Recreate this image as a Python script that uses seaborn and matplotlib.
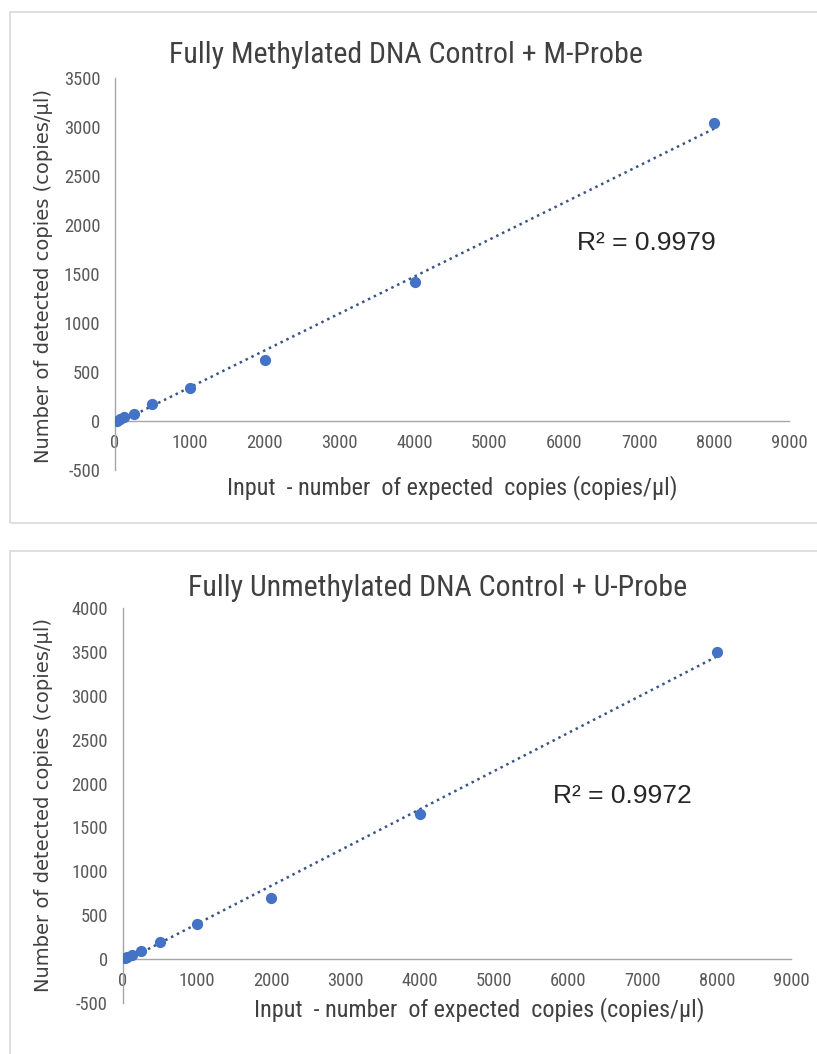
import matplotlib
matplotlib.use("Agg")
import matplotlib.pyplot as plt
from matplotlib.patches import Rectangle
import seaborn as sns
import numpy as np

# dane
expected_copies = [31.25, 62.5, 125, 250, 500, 1000, 2000, 4000, 8000]
m_probe_detected = [5, 20, 44, 68, 170, 337, 622, 1415, 3036]
u_probe_detected = [5, 20, 49, 95, 190, 400, 695, 1655, 3508]

m_title = "Fully Methylated DNA Control + M-Probe"
u_title = "Fully Unmethylated DNA Control + U-Probe"
m_r2 = "R² = 0.9979"
u_r2 = "R² = 0.9972"
x_label = "Input  - number  of expected  copies (copies/µl)"
y_label = "Number of detected copies (copies/µl)"

sns.set_style("white")
NARROW = ["Roboto Condensed", "Liberation Sans Narrow", "Liberation Sans", "DejaVu Sans"]
plt.rcParams["font.family"] = NARROW
plt.rcParams["axes.unicode_minus"] = False

W, H = 817, 1054
fig = plt.figure(figsize=(W / 100, H / 100), dpi=100)

point_color = "#4472C4"
trend_color = "#3A5585"
axis_color = "#A6A6A6"
tick_color = "#595959"
text_color = "#404040"


def px(x, y):
    # piksele (od lewego górnego rogu) -> współrzędne figury
    return x / W, 1 - y / H


def panel(box, y_vals, ymax, title, title_pos, r2, r2_pos, xl_pos, yl_pos):
    left, top, right, bottom = box
    x0, y0 = px(left, bottom)
    ax = fig.add_axes([x0, y0, (right - left) / W, (bottom - top) / H])

    sns.regplot(x=expected_copies, y=y_vals, ax=ax, ci=None, truncate=True,
                scatter_kws=dict(s=50, color=point_color, alpha=1, zorder=3),
                line_kws=dict(color=trend_color, linestyle=(0, (1, 1.6)),
                              linewidth=1.8, zorder=2))

    ax.set_xlim(0, 9000)
    ax.set_ylim(-500, ymax)
    ax.set_xticks(np.arange(0, 9001, 1000))
    ax.set_yticks(np.arange(-500, ymax + 1, 500))
    ax.spines["top"].set_visible(False)
    ax.spines["right"].set_visible(False)
    ax.spines["bottom"].set_position(("data", 0))
    for s in ("left", "bottom"):
        ax.spines[s].set_color(axis_color)
        ax.spines[s].set_linewidth(1.0)
    ax.tick_params(axis="both", direction="out", length=4.5, width=1.0,
                   color=axis_color, labelcolor=tick_color, labelsize=13.3)
    ax.tick_params(axis="y", pad=6)
    ax.tick_params(axis="x", pad=5)
    ax.set_xlabel("")
    ax.set_ylabel("")
    ax.patch.set_alpha(0)

    fig.text(*px(*title_pos), title, ha="center", va="center",
             fontsize=21.5, color=text_color)
    fig.text(*px(*r2_pos), r2, ha="left", va="center", fontsize=19,
             color="#262626", family=["Liberation Sans", "DejaVu Sans"])
    fig.text(*px(*xl_pos), x_label, ha="center", va="center",
             fontsize=17.4, color=text_color)
    fig.text(*px(*yl_pos), y_label, ha="center", va="center", rotation=90,
             fontsize=14, color=text_color, family=["DejaVu Sans"])
    return ax


# obramowania paneli
for (top, bottom) in [(12, 523), (551, 1060)]:
    x0, y0 = px(10, bottom)
    fig.patches.append(Rectangle((x0, y0), (830 - 10) / W, (bottom - top) / H,
                                 transform=fig.transFigure, fill=False,
                                 edgecolor="#D9D9D9", linewidth=1.2))

panel((115, 78, 789, 470), m_probe_detected, 3500, m_title, (406, 55),
      m_r2, (577, 243), (452, 488), (44, 276))
panel((122.5, 608.4, 791, 1002.7), u_probe_detected, 4000, u_title, (438, 588),
      u_r2, (553, 796), (479, 1010), (44, 805))

fig.savefig("out.png", dpi=100, facecolor="white")
